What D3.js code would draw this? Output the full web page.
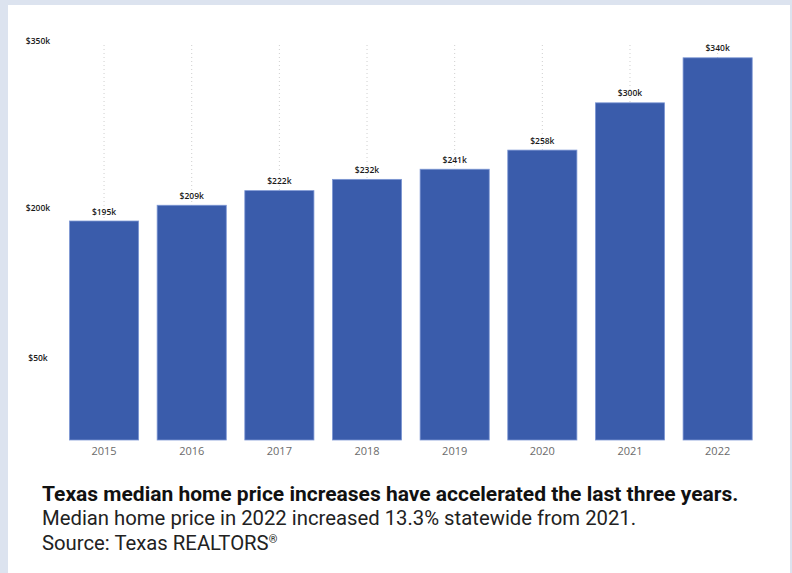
<!DOCTYPE html>
<html>
<head>
<meta charset="utf-8">
<script src="https://cdn.jsdelivr.net/npm/d3@7"></script>
<style>
  html, body { margin: 0; padding: 0; background: #dce3ef; }
  svg { display: block; }
</style>
</head>
<body>
<svg id="chart"></svg>
<script>
const years = ["2015", "2016", "2017", "2018", "2019", "2020", "2021", "2022"]
const prices = [195, 209, 222, 232, 241, 258, 300, 340]   // median price, $k
const axisTicks = [50, 200, 350]
const notes = [
    "Texas median home price increases have accelerated the last three years.",
    "Median home price in 2022 increased 13.3% statewide from 2021.",
    "Source: Texas REALTORS®"
]

const W = 792, H = 573
const svg = d3.select("#chart").attr("width", W).attr("height", H)

// white card
svg.append("rect")
    .attr("x", 8).attr("y", 5)
    .attr("width", 782).attr("height", H - 5)
    .attr("fill", "#ffffff")

const base = 440
const x = d3.scaleBand().domain(years).range([69, 752.7]).paddingInner(0.2).paddingOuter(0)
const y = d3.scaleLinear().domain([0, 340]).range([base, 57.3])

// the axis labels in the source are not spaced linearly
const yLab = d3.scaleLinear().domain(axisTicks).range([358, 208, 41])

// dotted guides
svg.append("g").selectAll("line")
    .data(years)
    .join("line")
    .attr("x1", d => x(d) + x.bandwidth() / 2)
    .attr("x2", d => x(d) + x.bandwidth() / 2)
    .attr("y1", 45).attr("y2", base)
    .attr("stroke", "#cfcfcf")
    .attr("stroke-width", 1)
    .attr("stroke-dasharray", "1,3")

// bars
svg.append("g").selectAll("rect")
    .data(prices)
    .join("rect")
    .attr("x", (d, i) => x(years[i]) + 0.5)
    .attr("width", x.bandwidth() - 1)
    .attr("y", d => y(d) + 0.5)
    .attr("height", d => base - y(d) - 0.5)
    .attr("fill", "#3a5cab")
    .attr("stroke", "#7d97d4")
    .attr("stroke-width", 0.8)

// value labels
svg.append("g").selectAll("text")
    .data(prices)
    .join("text")
    .attr("x", (d, i) => x(years[i]) + x.bandwidth() / 2)
    .attr("y", d => y(d) - 6)
    .attr("text-anchor", "middle")
    .style("font", "600 8.5px 'Open Sans'")
    .attr("fill", "#1a1a1a")
    .text(d => "$" + d + "k")

// y labels
svg.append("g").selectAll("text")
    .data(axisTicks)
    .join("text")
    .attr("x", 38)
    .attr("y", d => yLab(d) + 3)
    .attr("text-anchor", "middle")
    .style("font", "600 8.5px 'Open Sans'")
    .attr("fill", "#1a1a1a")
    .text(d => "$" + d + "k")

// x axis
const xAxis = svg.append("g")
    .attr("transform", "translate(0," + base + ")")
    .call(d3.axisBottom(x).tickSize(0).tickPadding(7))
xAxis.select(".domain").remove()
xAxis.selectAll("text")
    .style("font", "11px 'Open Sans'")
    .attr("fill", "#6b6b6b")

// caption
const cap = svg.append("g").selectAll("text")
    .data(notes)
    .join("text")
    .attr("x", 42)
    .attr("y", (d, i) => 501 + i * 24.3)
    .style("font-family", "Roboto")
    .style("font-size", (d, i) => i === 0 ? "21px" : "20.3px")
    .style("font-weight", (d, i) => i === 0 ? 700 : 400)
    .attr("fill", (d, i) => i === 0 ? "#111" : "#222")

cap.each(function(d) {
    const t = d3.select(this)
    const parts = d.split("®")
    t.append("tspan").text(parts[0])
    if (parts.length > 1) {
        t.append("tspan").attr("dy", -7).style("font-size", "11px").text("®")
    }
})
</script>
</body>
</html>
